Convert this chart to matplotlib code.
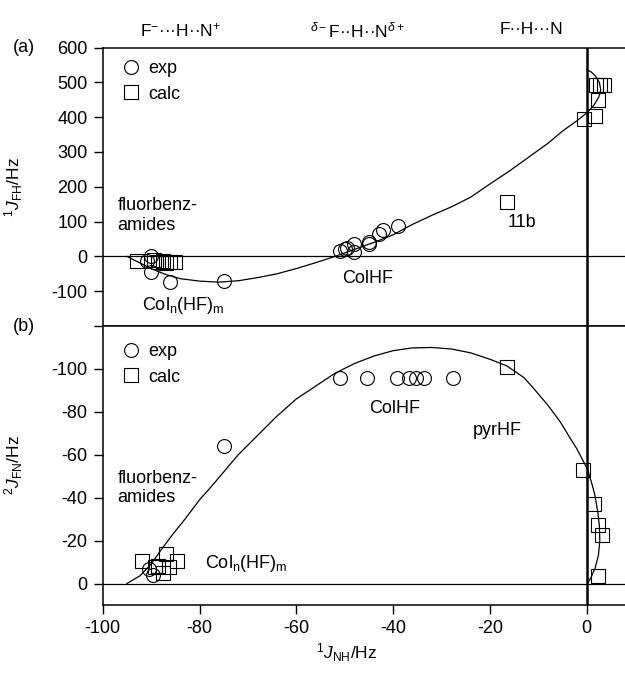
import matplotlib
matplotlib.use("Agg")
import matplotlib.pyplot as plt

plt.rcParams['font.family'] = ['Liberation Sans', 'DejaVu Sans']
plt.rcParams['font.size'] = 13
plt.rcParams['axes.unicode_minus'] = False
plt.rcParams['mathtext.fontset'] = 'custom'
plt.rcParams['mathtext.rm'] = 'Liberation Sans'
plt.rcParams['mathtext.it'] = 'Liberation Sans:italic'
plt.rcParams['mathtext.bf'] = 'Liberation Sans:bold'

# ---- panel (a): 1J(FH) vs 1J(NH) ----
a_exp_x = [-90, -90.8, -90, -86, -75, -51, -50, -49.5, -48, -48, -45, -45, -43, -42, -39]
a_exp_y = [0, -13, -45, -75, -72, 15, 22, 25, 35, 12, 35, 42, 65, 75, 88]
a_calc_x = [-93, -89.5, -88.5, -87.5, -87, -86, -85, -0.6, 1.7, 2.3, 2.0, 2.8, 3.6, -16.5]
a_calc_y = [-12, -10, -15, -12, -18, -15, -15, 394, 402, 448, 493, 493, 493, 156]
a_fit_x = [-95, -93, -90, -87, -84, -80, -76, -72, -68, -64, -60, -56, -52, -48,
           -44, -40, -36, -32, -28, -24, -20, -16, -12, -8, -5, -2, 0, 1.5,
           2.5, 2.9, 2.6, 1.8, 0.9, 0]
a_fit_y = [0, -14, -35, -52, -64, -71, -74, -70, -61, -50, -35, -18, 0, 20,
           40, 62, 92, 118, 142, 170, 208, 245, 285, 325, 360, 390, 412, 435,
           458, 478, 500, 518, 530, 536]

# ---- panel (b): 2J(FN) vs 1J(NH) ----
b_exp_x = [-90.4, -89.7, -75, -51, -45.3, -39.3, -36.7, -35.3, -33.7, -27.6]
b_exp_y = [-6.7, -3.9, -64, -96, -96, -96, -96, -96, -96, -96]
b_calc_x = [-91.9, -88.5, -86.9, -84.6, -87.6, -86.4, -89.2,
            -16.5, -0.7, 1.5, 2.3, 3.2, 2.3]
b_calc_y = [-10.6, -8.2, -13.7, -10.6, -5.1, -7.5, -7.5,
            -101, -52.7, -37.1, -27.3, -22.6, -3.6]
b_fit_x = [-95, -92.3, -90, -88, -85.5, -83, -80, -78, -75, -72, -68, -64, -60,
           -56, -52, -48, -44, -40, -36, -32, -28, -24, -20, -16.5, -13, -11,
           -8, -5.5, -3.5, -2.1, 0.1, 1.0, 1.7, 2.3, 2.6, 2.7, 2.4, 1.7, 0.9, 0.1]
b_fit_y = [0, -3.6, -9, -15.5, -23, -30, -39, -44, -52, -60, -69, -78, -86,
           -92, -98, -102.5, -106, -108.5, -109.8, -110, -109.3, -107.5, -104.5,
           -101.4, -96, -91, -83, -75.4, -68, -63, -53.5, -47, -41, -33, -27,
           -20, -13, -7, -3, 0.3]

x_ticks = [-100, -80, -60, -40, -20, 0]
a_yticks = [-200, -100, 0, 100, 200, 300, 400, 500, 600]
a_ylabels = ['', '-100', '0', '100', '200', '300', '400', '500', '600']
b_yticks = [-100, -80, -60, -40, -20, 0]

fig = plt.figure(figsize=(6.25, 6.74), dpi=100)
ax_a = fig.add_axes([0.1643, 0.5163, 0.8357, 0.4132])
ax_b = fig.add_axes([0.1643, 0.1024, 0.8357, 0.4139])

mk = dict(linestyle='none', markerfacecolor='none', markeredgecolor='black',
          markeredgewidth=0.8, zorder=3)
leg_kw = dict(loc='upper left', frameon=False,
              handlelength=1.3, handletextpad=0.35, labelspacing=0.45,
              borderaxespad=0.5, fontsize=13)

for ax in (ax_a, ax_b):
    ax.axhline(0, color='black', lw=0.9, zorder=1)
    ax.axvline(0, color='black', lw=1.8, zorder=1)
    ax.spines['right'].set_visible(False)
    for s in ('left', 'top', 'bottom'):
        ax.spines[s].set_linewidth(1.1)
    ax.set_xlim(-100, 7.9)
    ax.set_xticks(x_ticks)
    ax.tick_params(direction='out', length=6.5, width=1.0, pad=4.5, labelsize=13)

# panel (a)
ax_a.plot(a_fit_x, a_fit_y, color='black', lw=0.9, zorder=2)
ax_a.plot(a_exp_x, a_exp_y, marker='o', markersize=10, label='exp', **mk)
ax_a.plot(a_calc_x, a_calc_y, marker='s', markersize=9.5, label='calc', **mk)
ax_a.set_ylim(-200, 600)
ax_a.set_yticks(a_yticks)
ax_a.set_yticklabels(a_ylabels)
ax_a.tick_params(axis='x', labelbottom=False)
ax_a.set_ylabel(r'$^{1}\mathit{J}_{\mathrm{FH}}$/Hz', fontsize=12.5)
ax_a.yaxis.set_label_coords(-0.149, 0.5)
ax_a.legend(bbox_to_anchor=(0.0, 1.012), **leg_kw)

ax_a.text(-96.9, 118, 'fluorbenz-\namides', ha='left', va='center',
          linespacing=1.2)
ax_a.text(-91.9, -141, r'Col$_{\mathrm{n}}$(HF)$_{\mathrm{m}}$', ha='left', va='center')
ax_a.text(-45.3, -64, 'ColHF', ha='center', va='center')
ax_a.text(-13.4, 98, '11b', ha='center', va='center')
ax_a.text(-0.15, 1.0, '(a)', transform=ax_a.transAxes, ha='center', va='center')

top_tr = ax_a.get_xaxis_transform()
ax_a.text(-84, 1.063, r'F$^{-}$···H··N$^{+}$', transform=top_tr, ha='center',
          va='center', fontsize=12.5)
ax_a.text(-47.4, 1.063, r'$^{\delta-}$F··H··N$^{\delta+}$', transform=top_tr,
          ha='center', va='center', fontsize=12.5)
ax_a.text(-11.5, 1.063, 'F··H···N', transform=top_tr, ha='center', va='center',
          fontsize=12.5)

# panel (b)
ax_b.plot(b_fit_x, b_fit_y, color='black', lw=0.9, zorder=2)
ax_b.plot(b_exp_x, b_exp_y, marker='o', markersize=10, label='exp', **mk)
ax_b.plot(b_calc_x, b_calc_y, marker='s', markersize=9.5, label='calc', **mk)
ax_b.set_ylim(10, -120)
ax_b.set_yticks(b_yticks)
ax_b.tick_params(axis='x', top=False)
ax_b.set_ylabel(r'$^{2}\mathit{J}_{\mathrm{FN}}$/Hz', fontsize=12.5)
ax_b.yaxis.set_label_coords(-0.149, 0.5)
ax_b.set_xlabel(r'$^{1}\mathit{J}_{\mathrm{NH}}$/Hz', fontsize=12.5)
ax_b.xaxis.set_label_coords(0.468, -0.13)
ax_b.legend(bbox_to_anchor=(0.0, 0.996), **leg_kw)

ax_b.text(-96.9, -44.6, 'fluorbenz-\namides', ha='left', va='center',
          linespacing=1.2)
ax_b.text(-78.9, -9.5, r'Col$_{\mathrm{n}}$(HF)$_{\mathrm{m}}$', ha='left', va='center')
ax_b.text(-39.6, -81.6, 'ColHF', ha='center', va='center')
ax_b.text(-18.5, -71.3, 'pyrHF', ha='center', va='center')
ax_b.text(-0.15, 1.0, '(b)', transform=ax_b.transAxes, ha='center', va='center')

fig.savefig('out.png', dpi=100)
